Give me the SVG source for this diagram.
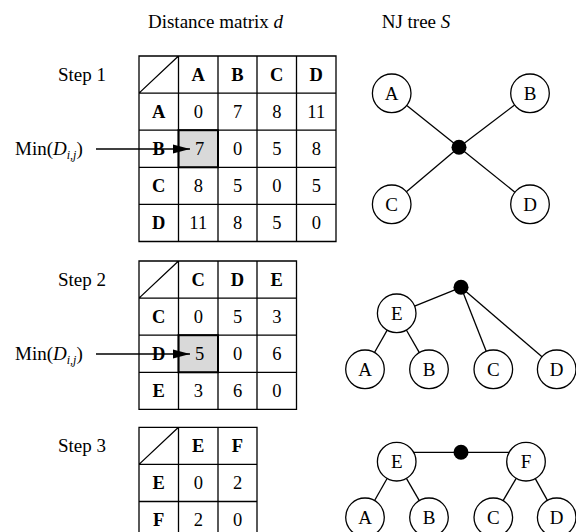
<svg xmlns="http://www.w3.org/2000/svg" width="576" height="532" viewBox="0 0 576 532">
<defs>
<style>
text{font-family:"Liberation Serif","Times New Roman",serif;fill:#000}
.lbl{font-size:19px}
.c{font-size:18.5px;text-anchor:middle}
.b{font-weight:bold}
.g{fill:none;stroke:#000;stroke-width:1.3}
.sh{fill:#d9d9d9;stroke:#000;stroke-width:2}
.n circle{fill:#fff;stroke:#000;stroke-width:1.3}
.n text{font-size:19px;text-anchor:middle}
.e{stroke:#000;stroke-width:1.3;fill:none}
</style>
<marker id="arr" markerUnits="userSpaceOnUse" markerWidth="18" markerHeight="10" refX="17" refY="5" orient="auto">
<path d="M0,0.5 L17,5 L0,9.5 Z" fill="#000"/>
</marker>
</defs>
<rect width="576" height="532" fill="#fff"/>

<text class="lbl" x="215.5" y="28" text-anchor="middle">Distance matrix <tspan font-style="italic">d</tspan></text>
<text class="lbl" x="416" y="28" text-anchor="middle">NJ tree <tspan font-style="italic">S</tspan></text>

<!-- Step 1 table -->
<g id="table1">
<text class="lbl" x="82" y="81" text-anchor="middle">Step 1</text>
<rect class="sh" x="178.5" y="130.2" width="39.5" height="37.1"/>
<path class="g" d="M139,56H336V241.5H139Z M139,93.1H336 M139,130.2H336 M139,167.3H336 M139,204.4H336 M178.5,56V241.5 M218,56V241.5 M257,56V241.5 M296.5,56V241.5 M139,93.1L178.5,56"/>
<text class="c b" x="198.25" y="81">A</text><text class="c b" x="237.5" y="81">B</text><text class="c b" x="276.75" y="81">C</text><text class="c b" x="316.25" y="81">D</text>
<text class="c b" x="158.75" y="118">A</text><text class="c" x="198.25" y="118">0</text><text class="c" x="237.5" y="118">7</text><text class="c" x="276.75" y="118">8</text><text class="c" x="316.25" y="118">11</text>
<text class="c b" x="158.75" y="155">B</text><text class="c" x="199.5" y="155">7</text><text class="c" x="237.5" y="155">0</text><text class="c" x="276.75" y="155">5</text><text class="c" x="316.25" y="155">8</text>
<text class="c b" x="158.75" y="192">C</text><text class="c" x="198.25" y="192">8</text><text class="c" x="237.5" y="192">5</text><text class="c" x="276.75" y="192">0</text><text class="c" x="316.25" y="192">5</text>
<text class="c b" x="158.75" y="229">D</text><text class="c" x="198.25" y="229">11</text><text class="c" x="237.5" y="229">8</text><text class="c" x="276.75" y="229">5</text><text class="c" x="316.25" y="229">0</text>
</g>
<text class="lbl" x="15" y="155">Min(<tspan font-style="italic">D</tspan><tspan font-style="italic" font-size="12" dy="4">i,j</tspan><tspan dy="-4">)</tspan></text>

<!-- Step 2 table -->
<g id="table2">
<text class="lbl" x="82" y="286" text-anchor="middle">Step 2</text>
<rect class="sh" x="178.5" y="335.2" width="39.5" height="37.1"/>
<path class="g" d="M139,261H296.5V409.4H139Z M139,298.1H296.5 M139,335.2H296.5 M139,372.3H296.5 M178.5,261V409.4 M218,261V409.4 M257,261V409.4 M139,298.1L178.5,261"/>
<text class="c b" x="198.25" y="286">C</text><text class="c b" x="237.5" y="286">D</text><text class="c b" x="276.75" y="286">E</text>
<text class="c b" x="158.75" y="323">C</text><text class="c" x="198.25" y="323">0</text><text class="c" x="237.5" y="323">5</text><text class="c" x="276.75" y="323">3</text>
<text class="c b" x="158.75" y="360">D</text><text class="c" x="199.5" y="360">5</text><text class="c" x="237.5" y="360">0</text><text class="c" x="276.75" y="360">6</text>
<text class="c b" x="158.75" y="397">E</text><text class="c" x="198.25" y="397">3</text><text class="c" x="237.5" y="397">6</text><text class="c" x="276.75" y="397">0</text>
</g>
<text class="lbl" x="15" y="360">Min(<tspan font-style="italic">D</tspan><tspan font-style="italic" font-size="12" dy="4">i,j</tspan><tspan dy="-4">)</tspan></text>

<!-- Step 3 table -->
<g id="table3">
<text class="lbl" x="82" y="452" text-anchor="middle">Step 3</text>
<path class="g" d="M139,538.6V427.3H257V538.6 M139,464.4H257 M139,501.5H257 M178.5,427.3V538.6 M218,427.3V538.6 M139,464.4L178.5,427.3"/>
<text class="c b" x="198.25" y="452">E</text><text class="c b" x="237.5" y="452">F</text>
<text class="c b" x="158.75" y="489">E</text><text class="c" x="198.25" y="489">0</text><text class="c" x="237.5" y="489">2</text>
<text class="c b" x="158.75" y="526">F</text><text class="c" x="198.25" y="526">2</text><text class="c" x="237.5" y="526">0</text>
</g>

<!-- connectors -->
<g id="connectors">
<line class="e" x1="96" y1="149" x2="190" y2="149" marker-end="url(#arr)"/>
<line class="e" x1="96" y1="354" x2="190" y2="354" marker-end="url(#arr)"/>
<line class="e" x1="406.8" y1="105.4" x2="459" y2="147.3"/>
<line class="e" x1="514.6" y1="105" x2="459" y2="147.3"/>
<line class="e" x1="406.4" y1="191.8" x2="459" y2="147.3"/>
<line class="e" x1="514.9" y1="192.2" x2="459" y2="147.3"/>
<line class="e" x1="414.6" y1="306.1" x2="461" y2="287.3"/>
<line class="e" x1="486.2" y1="351.3" x2="461" y2="287.3"/>
<line class="e" x1="542" y1="356.7" x2="461" y2="287.3"/>
<line class="e" x1="387.2" y1="330.1" x2="374.5" y2="352.5"/>
<line class="e" x1="406.35" y1="330" x2="419.35" y2="352.6"/>
<line class="e" x1="413.6" y1="452.3" x2="509.1" y2="452.3"/>
<line class="e" x1="387.1" y1="478.5" x2="374.6" y2="500.5"/>
<line class="e" x1="406.4" y1="478.4" x2="419.3" y2="500.6"/>
<line class="e" x1="516.2" y1="478.3" x2="503.1" y2="500.7"/>
<line class="e" x1="535.3" y1="478.6" x2="547.4" y2="500.4"/>
</g>

<!-- tree 1 -->
<g id="t1A" class="n"><circle cx="391.7" cy="93.3" r="19.3"/><text x="391.7" y="99.8">A</text></g>
<g id="t1B" class="n"><circle cx="530" cy="93.3" r="19.3"/><text x="530" y="99.8">B</text></g>
<g id="t1C" class="n"><circle cx="391.7" cy="204.3" r="19.3"/><text x="391.7" y="210.8">C</text></g>
<g id="t1D" class="n"><circle cx="530" cy="204.3" r="19.3"/><text x="530" y="210.8">D</text></g>
<g id="t1root"><circle cx="459" cy="147.3" r="7.5" fill="#000"/></g>

<!-- tree 2 -->
<g id="t2root"><circle cx="461" cy="287.3" r="7.5" fill="#000"/></g>
<g id="t2E" class="n"><circle cx="396.7" cy="313.3" r="19.3"/><text x="396.7" y="319.8">E</text></g>
<g id="t2A" class="n"><circle cx="365" cy="369.3" r="19.3"/><text x="365" y="375.8">A</text></g>
<g id="t2B" class="n"><circle cx="429" cy="369.3" r="19.3"/><text x="429" y="375.8">B</text></g>
<g id="t2C" class="n"><circle cx="493.3" cy="369.3" r="19.3"/><text x="493.3" y="375.8">C</text></g>
<g id="t2D" class="n"><circle cx="556.7" cy="369.3" r="19.3"/><text x="556.7" y="375.8">D</text></g>

<!-- tree 3 -->
<g id="t3root"><circle cx="461" cy="452.3" r="7.5" fill="#000"/></g>
<g id="t3E" class="n"><circle cx="396.7" cy="461.7" r="19.3"/><text x="396.7" y="468.2">E</text></g>
<g id="t3F" class="n"><circle cx="526" cy="461.7" r="19.3"/><text x="526" y="468.2">F</text></g>
<g id="t3A" class="n"><circle cx="365" cy="517.3" r="19.3"/><text x="365" y="523.8">A</text></g>
<g id="t3B" class="n"><circle cx="429" cy="517.3" r="19.3"/><text x="429" y="523.8">B</text></g>
<g id="t3C" class="n"><circle cx="493.3" cy="517.3" r="19.3"/><text x="493.3" y="523.8">C</text></g>
<g id="t3D" class="n"><circle cx="556.7" cy="517.3" r="19.3"/><text x="556.7" y="523.8">D</text></g>
</svg>
